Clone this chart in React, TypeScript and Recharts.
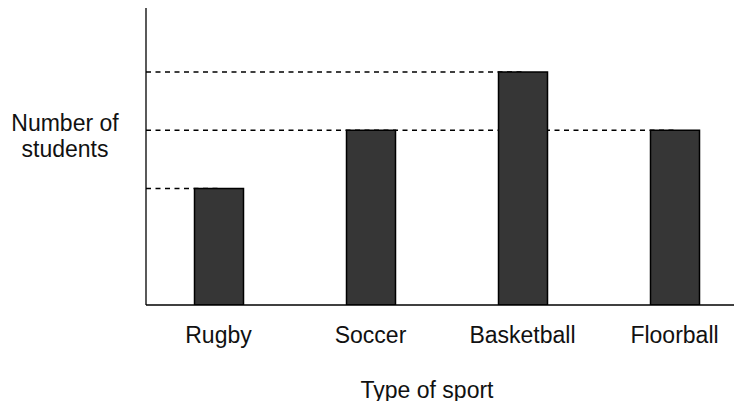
import React from 'react';
import { BarChart, Bar, XAxis, YAxis, ReferenceLine } from 'recharts';

const CATEGORIES = ['Rugby', 'Soccer', 'Basketball', 'Floorball'];
const STUDENTS = [2, 3, 4, 3];
const POSITIONS = [0.5, 1.5, 2.5, 3.5];

const X_MIN = 0.023;
const X_MAX = 3.944;
const Y_MAX = 5.15;

const FONT = '"Liberation Sans", Arial, sans-serif';

const data = CATEGORIES.map((name, i) => ({ name, pos: POSITIONS[i], value: STUDENTS[i] }));

// one dashed guide per distinct value, running to the last bar with that value
const guides = Array.from(new Set(STUDENTS)).map(v => {
  const last = STUDENTS.lastIndexOf(v);
  return { value: v, end: POSITIONS[last] };
});

const App: React.FC = () => {
  return (
    <div style={{ position: 'relative', width: 742, height: 409, margin: -8, background: '#fff', fontFamily: FONT, overflow: 'hidden' }}>
      <BarChart width={742} height={409} data={data} margin={{ top: 5, right: 0, left: 145, bottom: 0 }}>
        <XAxis
          dataKey="pos"
          type="number"
          domain={[X_MIN, X_MAX]}
          ticks={POSITIONS}
          tickFormatter={(v: number) => CATEGORIES[POSITIONS.indexOf(v)]}
          axisLine={{ stroke: '#000', strokeWidth: 1.3 }}
          tickLine={false}
          tickSize={0}
          tickMargin={22}
          tick={{ fill: '#111', fontSize: 23, fontFamily: FONT }}
          height={104}
          allowDataOverflow
        />
        <YAxis
          type="number"
          domain={[0, Y_MAX]}
          width={1}
          tick={false}
          tickLine={false}
          axisLine={{ stroke: '#000', strokeWidth: 1.3 }}
          allowDataOverflow
        />
        {guides.map(g => (
          <ReferenceLine
            key={g.value}
            segment={[{ x: X_MIN, y: g.value }, { x: g.end, y: g.value }]}
            stroke="#000"
            strokeWidth={1.4}
            strokeDasharray="5 4.5"
            zIndex={50}
          />
        ))}
        <Bar dataKey="value" barSize={49} fill="#363636" stroke="#000" strokeWidth={1.5} isAnimationActive={false} />
      </BarChart>
      <div style={{ position: 'absolute', left: 0, top: 110, width: 130, textAlign: 'center', fontSize: 23, lineHeight: '26px', color: '#111' }}>
        Number of<br />students
      </div>
      <div style={{ position: 'absolute', left: 327, top: 377, width: 200, textAlign: 'center', fontSize: 23, lineHeight: '26px', color: '#111' }}>
        Type of sport
      </div>
    </div>
  );
};

export default App;
